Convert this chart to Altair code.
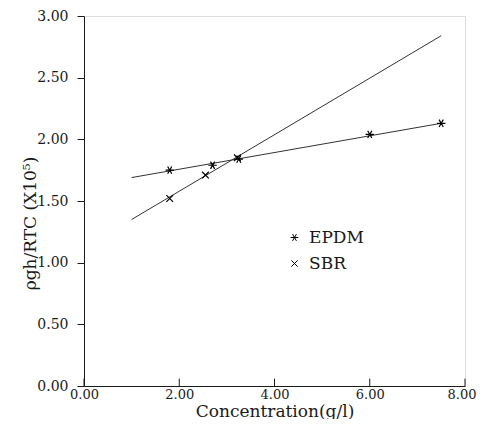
import altair as alt
import pandas as pd

# Measured points
epdm_x = [1.8, 2.7, 3.25, 6.0, 7.5]
epdm_y = [1.75, 1.79, 1.84, 2.04, 2.13]
sbr_x = [1.8, 2.55, 3.22]
sbr_y = [1.52, 1.71, 1.85]

# Fitted line end points
epdm_line_x = [1.0, 7.5]
epdm_line_y = [1.69, 2.13]
sbr_line_x = [1.0, 7.5]
sbr_line_y = [1.35, 2.84]

x_ticks = [0, 2, 4, 6, 8]
y_ticks = [0, 0.5, 1.0, 1.5, 2.0, 2.5, 3.0]
series = ["EPDM", "SBR"]

FONT = "DejaVu Serif"
INK = "#1a1a1a"

pts = pd.DataFrame({
    "x": epdm_x + sbr_x,
    "y": epdm_y + sbr_y,
    "s": ["EPDM"] * len(epdm_x) + ["SBR"] * len(sbr_x),
})
lines = pd.DataFrame({
    "x": epdm_line_x + sbr_line_x,
    "y": epdm_line_y + sbr_line_y,
    "s": ["EPDM"] * 2 + ["SBR"] * 2,
})
ticks = pd.DataFrame({"x": x_ticks})

xs = alt.Scale(domain=[0, 8], nice=False, zero=False, padding=0)
ys = alt.Scale(domain=[0, 3], nice=False, zero=False, padding=0)

last_x = x_ticks[-1]
xaxis = alt.Axis(values=x_ticks, format=".2f", title="Concentration(g/l)",
                 tickSize=0, labelPadding=2, labelFlush=False, labelFont=FONT,
                 labelFontSize=13, labelColor=INK,
                 labelAlign={"condition": {"test": f"datum.value === {last_x}",
                                           "value": "right"},
                             "value": "center"},
                 labelOffset={"condition": {"test": f"datum.value === {last_x}",
                                            "value": 11},
                              "value": 0},
                 titleFont=FONT, titleFontSize=17, titleFontWeight="normal",
                 titleColor=INK, titleY=30, titleBaseline="alphabetic",
                 domainColor=INK, grid=False)
yaxis = alt.Axis(values=y_ticks, format=".2f", title="ρgh/RTC (X10⁵)",
                 tickSize=7, labelPadding=9, labelFlush=False, tickColor=INK,
                 labelFont=FONT, labelFontSize=14, labelColor=INK,
                 titleFont=FONT, titleFontSize=17, titleFontWeight="normal",
                 titleColor=INK, titleX=-54, titleY=207, titleAngle=-90,
                 titleAlign="center", titleBaseline="middle", domainColor=INK,
                 grid=False)

asterisk = "M-1,0L1,0M-0.5,-0.87L0.5,0.87M0.5,-0.87L-0.5,0.87"
cross = "M-0.8,-0.8L0.8,0.8M0.8,-0.8L-0.8,0.8"

line_layer = alt.Chart(lines).mark_line(color="#333", strokeWidth=1).encode(
    x=alt.X("x:Q", scale=xs, axis=xaxis),
    y=alt.Y("y:Q", scale=ys, axis=yaxis),
    detail="s:N",
)

point_layer = alt.Chart(pts).mark_point(filled=False, size=70, color="black",
                                        strokeWidth=1.2, opacity=1).encode(
    x=alt.X("x:Q", scale=xs),
    y=alt.Y("y:Q", scale=ys),
    shape=alt.Shape("s:N", scale=alt.Scale(domain=series, range=[asterisk, cross]),
                    legend=alt.Legend(orient="none", legendX=202, legendY=213,
                                      title=None, labelFont=FONT, labelFontSize=17,
                                      labelColor=INK, symbolSize=60,
                                      symbolStrokeColor="black",
                                      symbolStrokeWidth=1, rowPadding=8,
                                      labelOffset=6)),
)

tick_layer = alt.Chart(ticks).mark_rule(color=INK, strokeWidth=1).encode(
    x=alt.X("x:Q", scale=xs),
    y=alt.Y(datum=0, scale=ys),
    y2=alt.Y2(datum=0.06),
)

chart = alt.layer(line_layer, point_layer, tick_layer).properties(
    width=381, height=370,
    autosize=alt.AutoSizeParams(type="none"),
    padding={"left": 76, "top": 8, "right": 12, "bottom": 33},
).configure_view(stroke=INK, strokeWidth=1).configure(background="white")

chart.save("out.html", embed_options={"renderer": "svg", "actions": False})
